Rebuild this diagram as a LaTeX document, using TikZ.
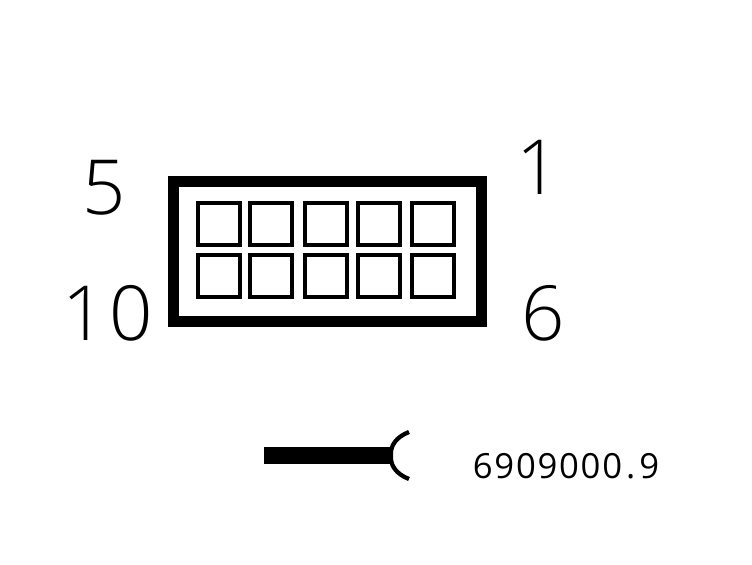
\documentclass[tikz,border=0pt]{standalone}
\usepackage{fontspec}
\usetikzlibrary{positioning}
\newfontfamily\pinfont{Open Sans Light}
\newfontfamily\partfont[LetterSpace=5]{Open Sans}
\tikzset{
  contact/.style={draw,line width=3pt,minimum size=31.5pt,inner sep=0pt},
  pinlabel/.style={inner sep=0pt,font=\pinfont\fontsize{57}{57}\selectfont},
}
\begin{document}
\begin{tikzpicture}[x=0.75pt,y=-0.75pt,node distance=4.5pt]
  \useasboundingbox (0,0) rectangle (752,564);
  \node[draw,line width=8.25pt,minimum width=231pt,minimum height=105pt,inner sep=0pt](housing) at (327.5,251.5) {};
  \node[contact](pinone) at (433,224) {};
  \node[contact,left=6pt of pinone](pintwo) {};
  \node[contact,left=5.25pt of pintwo](pinthree) {};
  \node[contact,left=6.75pt of pinthree](pinfour) {};
  \node[contact,left=4.5pt of pinfour](pinfive) {};
  \node[contact,below= of pinone](pinsix) {};
  \node[contact,below= of pintwo](pinseven) {};
  \node[contact,below= of pinthree](pineight) {};
  \node[contact,below= of pinfour](pinnine) {};
  \node[contact,below= of pinfive](pinten) {};
  \node[pinlabel](labelfive) at (104,188) {5};
  \node[pinlabel](labelone) at (538,167) {1};
  \node[pinlabel](labelten) at (108,313) {1\kern3pt 0};
  \node[pinlabel](labelsix) at (543,313) {6};
  \coordinate (wirestart) at (264,455.5);
  \coordinate (wireend) at (391,455.5);
  \coordinate (forktop) at (409,432);
  \coordinate (forkbottom) at (409,479);
  \draw[line width=12.75pt] (wirestart)--(wireend);
  \draw[line width=3.2pt] (forktop) .. controls (396,437) and (390,446) .. (wireend) .. controls (390,465) and (396,474) .. (forkbottom);
  \node[inner sep=0pt,font=\partfont\fontsize{26}{26}\selectfont](partno) at (566,466) {6909000\kern3pt.\kern3pt 9};
\end{tikzpicture}
\end{document}
